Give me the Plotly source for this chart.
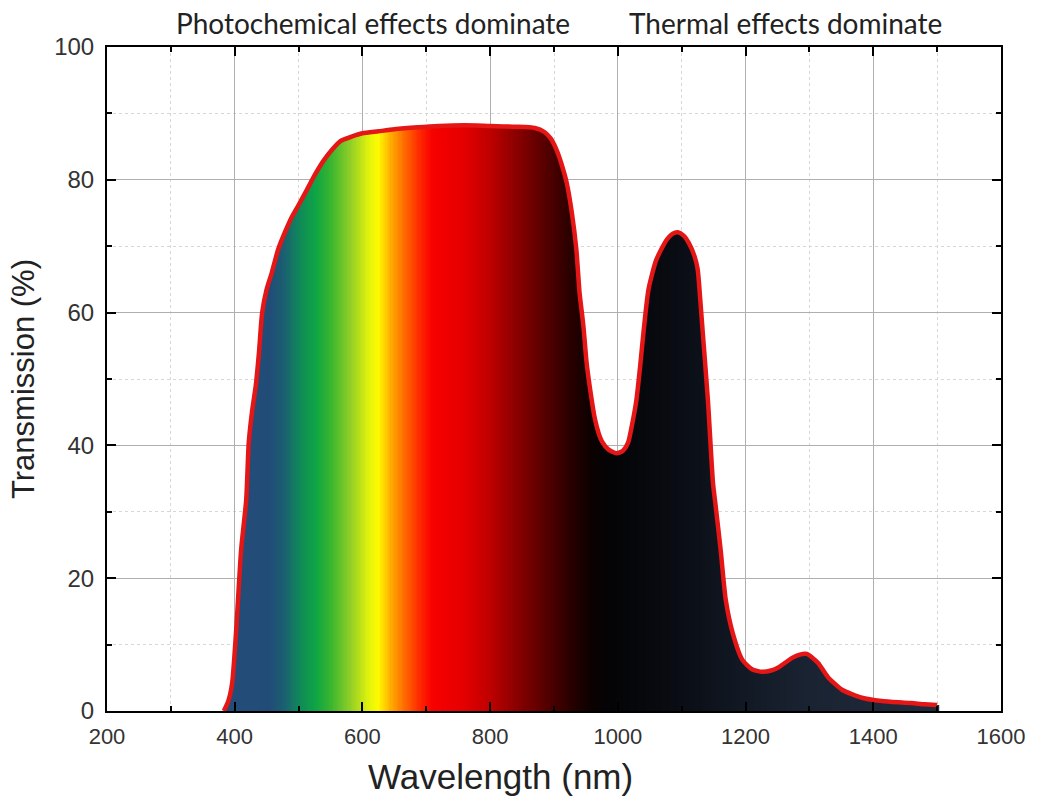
import numpy as np
import plotly.graph_objects as go

# ---- data ----
wavelength_nm = [383, 390, 396, 402, 410, 418, 422, 427, 433, 438, 443, 450, 458, 468, 480,
                 490, 500, 513, 527, 540, 552, 565, 583, 600, 625, 650, 687, 720, 760, 800,
                 840, 870, 885, 895, 904, 912, 920, 928, 935, 940, 946, 951, 958, 964, 970,
                 975, 985, 998, 1008, 1016, 1022, 1029, 1035, 1040, 1048, 1060, 1076, 1086,
                 1094, 1103, 1111, 1120, 1125, 1129, 1133, 1141, 1149, 1153, 1161, 1169,
                 1180, 1195, 1210, 1226, 1240, 1252, 1273, 1285, 1296, 1305, 1314, 1329,
                 1351, 1382, 1413, 1440, 1460, 1480, 1500]
transmission_pct = [0.0, 1.5, 4.2, 11.7, 24.2, 31.8, 40.4, 45.0, 49.0, 54.0, 60.0, 63.5, 66.0,
                    69.5, 72.4, 74.5, 76.2, 78.5, 81.0, 83.0, 84.5, 85.8, 86.5, 87.0, 87.3,
                    87.6, 87.9, 88.1, 88.2, 88.1, 88.0, 87.8, 87.2, 86.2, 84.5, 82.3, 79.5,
                    75.0, 69.5, 63.0, 58.0, 52.5, 47.5, 44.0, 41.8, 40.6, 39.4, 38.8, 39.2,
                    40.4, 43.0, 46.8, 52.0, 56.9, 63.5, 67.9, 70.9, 71.9, 72.1, 71.6, 70.5,
                    68.5, 66.5, 62.0, 56.9, 46.8, 34.3, 31.0, 24.2, 16.7, 11.7, 7.7, 6.3,
                    5.9, 6.1, 6.6, 8.0, 8.5, 8.6, 8.0, 7.2, 5.1, 3.2, 2.0, 1.5, 1.3, 1.2,
                    1.0, 0.9]

x_ticks = [200, 400, 600, 800, 1000, 1200, 1400, 1600]
y_ticks = [0, 20, 40, 60, 80, 100]
region_labels = ["Photochemical effects dominate", "Thermal effects dominate"]
region_label_x = [617, 1262]
x_title = "Wavelength (nm)"
y_title = "Transmission (%)"

# spectrum colours (wavelength, colour) for the gradient fill
spectrum_stops = [
    (383, "rgb(36,76,120)"), (455, "rgb(34,76,120)"), (478, "rgb(26,96,112)"),
    (500, "rgb(16,135,90)"), (527, "rgb(14,165,68)"), (550, "rgb(55,180,48)"),
    (583, "rgb(150,208,38)"), (612, "rgb(230,245,10)"), (625, "rgb(255,250,0)"),
    (645, "rgb(255,170,0)"), (665, "rgb(255,110,0)"), (690, "rgb(255,40,0)"),
    (710, "rgb(248,0,0)"), (760, "rgb(228,0,0)"), (800, "rgb(190,0,0)"),
    (850, "rgb(128,0,0)"), (885, "rgb(88,0,0)"), (920, "rgb(48,0,0)"),
    (960, "rgb(10,1,1)"), (990, "rgb(4,4,6)"), (1100, "rgb(10,13,20)"),
    (1200, "rgb(18,25,37)"), (1300, "rgb(26,35,50)"), (1503, "rgb(32,43,60)"),
]

# ---- build gradient fill under the curve ----
zmin, zmax = spectrum_stops[0][0], spectrum_stops[-1][0]
colorscale = [[(w - zmin) / (zmax - zmin), c] for w, c in spectrum_stops]

gx = np.arange(383, 1504, 2.0)
gy = np.arange(0.125, 90.0, 0.25)
curve_on_grid = np.interp(gx, wavelength_nm, transmission_pct)
XX, YY = np.meshgrid(gx, gy)
Z = np.where(YY <= curve_on_grid[None, :], XX, np.nan)

fig = go.Figure()
fig.add_trace(go.Heatmap(
    x=gx, y=gy, z=Z, colorscale=colorscale, zmin=zmin, zmax=zmax,
    showscale=False, hoverinfo="skip",
))
fig.add_trace(go.Scatter(
    x=wavelength_nm, y=transmission_pct, mode="lines",
    line=dict(color="rgb(228,22,22)", width=4.5, shape="spline", smoothing=0.6),
    hoverinfo="x+y", showlegend=False,
))

for txt, xv in zip(region_labels, region_label_x):
    fig.add_annotation(x=xv, y=1.0, xref="x", yref="paper", yanchor="bottom", yshift=5,
                       text=txt, showarrow=False,
                       font=dict(family="Lato", size=28, color="#222"))

# x-axis title (slightly left of centre, as in the reference)
fig.add_annotation(x=0.44, y=0, xref="paper", yref="paper", yanchor="top", yshift=-44,
                   text=x_title, showarrow=False,
                   font=dict(family="Liberation Sans, Arial", size=35, color="#222"))

axis_common = dict(
    showline=True, linecolor="black", linewidth=2, mirror="ticks",
    ticks="inside", ticklen=9, tickwidth=2, tickcolor="black",
    showgrid=True, gridcolor="rgb(175,175,175)", gridwidth=1,
    zeroline=False,
)

fig.update_layout(
    width=1037, height=798,
    margin=dict(l=107, r=30, t=47, b=87),
    plot_bgcolor="white", paper_bgcolor="white",
    showlegend=False,
    xaxis=dict(
        range=[200, 1600], tickvals=x_ticks, ticktext=[str(v) for v in x_ticks],
        tickfont=dict(family="Liberation Sans, Arial", size=22, color="#333"),
        ticklabelstandoff=5,
        minor=dict(dtick=100, tick0=200, ticks="inside", ticklen=5, tickwidth=2,
                   tickcolor="black", showgrid=True, gridcolor="rgb(215,215,215)",
                   griddash="dot", gridwidth=1),
        **axis_common,
    ),
    yaxis=dict(
        range=[0, 100], tickvals=y_ticks, ticktext=[str(v) for v in y_ticks],
        tickfont=dict(family="Liberation Sans, Arial", size=24, color="#333"),
        ticklabelstandoff=6,
        minor=dict(dtick=10, tick0=0, ticks="inside", ticklen=5, tickwidth=2,
                   tickcolor="black", showgrid=True, gridcolor="rgb(215,215,215)",
                   griddash="dot", gridwidth=1),
        title=dict(text=y_title, standoff=10,
                   font=dict(family="Liberation Sans, Arial", size=31, color="#222")),
        **axis_common,
    ),
)

fig.write_html("out.html")
